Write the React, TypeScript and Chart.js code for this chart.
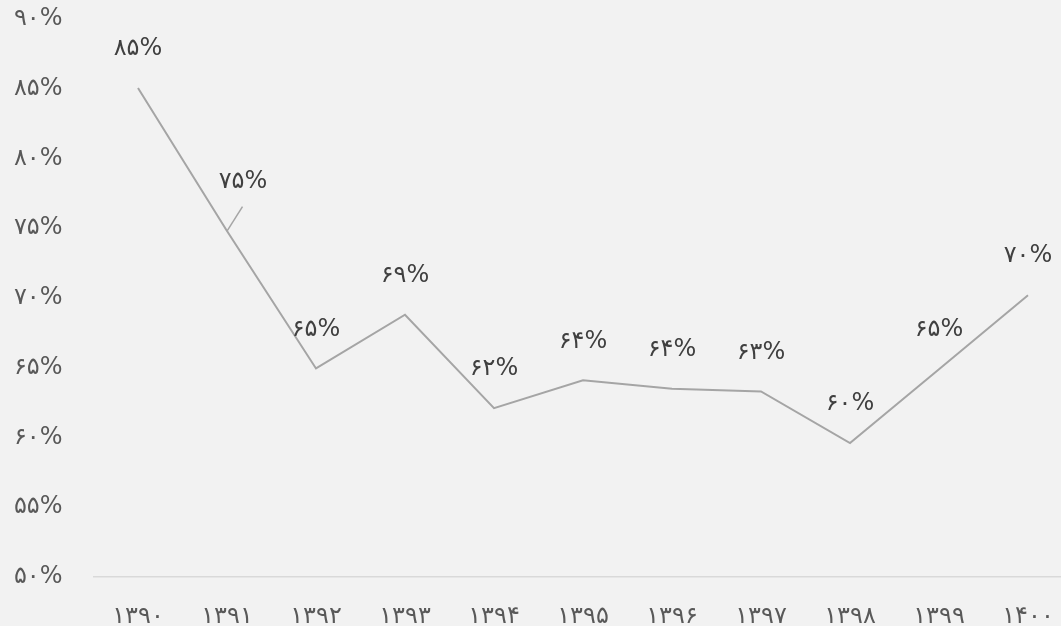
import React, { useEffect, useRef } from "react";
import { Chart, registerables } from "chart.js";

Chart.register(...registerables);

const years = [1390, 1391, 1392, 1393, 1394, 1395, 1396, 1397, 1398, 1399, 1400];
const shares = [85.05, 74.8, 64.95, 68.8, 62.1, 64.1, 63.5, 63.3, 59.6, 64.9, 70.2];
const yTicks = [50, 55, 60, 65, 70, 75, 80, 85, 90];

const FA = ["۰", "۱", "۲", "۳", "۴", "۵", "۶", "۷", "۸", "۹"];
const toFa = (v: number | string) => String(v).replace(/\d/g, (d) => FA[+d]);

const FONT = "'DejaVu Sans', sans-serif";

const labelPlugin = {
  id: "faLabels",
  afterDatasetsDraw(chart: any) {
    const ctx = chart.ctx;
    const meta = chart.getDatasetMeta(0);
    ctx.save();
    ctx.font = `24px ${FONT}`;
    ctx.fillStyle = "#404040";
    ctx.textAlign = "center";
    ctx.textBaseline = "middle";
    meta.data.forEach((pt: any, i: number) => {
      const v = shares[i];
      let dx = 0;
      let dy = -39;
      if (i === 1) {
        dx = 16;
        dy = -49;
        ctx.strokeStyle = "#a5a5a5";
        ctx.lineWidth = 1.5;
        ctx.beginPath();
        ctx.moveTo(pt.x, pt.y);
        ctx.lineTo(pt.x + 15.5, pt.y - 24.5);
        ctx.stroke();
      }
      ctx.fillText(toFa(Math.round(v)) + "%", pt.x + dx, pt.y + dy);
    });
    ctx.restore();
  },
};

export default function App() {
  const ref = useRef<HTMLCanvasElement | null>(null);
  useEffect(() => {
    if (!ref.current) return;
    const chart = new Chart(ref.current, {
      type: "line",
      data: {
        labels: years.map((y) => toFa(y)),
        datasets: [
          {
            data: shares,
            borderColor: "#a5a5a5",
            borderWidth: 2,
            pointRadius: 0,
            tension: 0,
          },
        ],
      },
      options: {
        animation: false,
        responsive: false,
        maintainAspectRatio: false,
        layout: { autoPadding: false, padding: { top: 19, right: 12.5, left: 0, bottom: 0 } },
        plugins: { legend: { display: false }, tooltip: { enabled: false } },
        scales: {
          x: {
            type: "category",
            offset: true,
            grid: { display: false, drawTicks: false },
            border: { display: true, color: "#d9d9d9", width: 1.5 },
            ticks: {
              color: "#595959",
              font: { family: FONT, size: 24 },
              padding: 25,
              maxRotation: 0,
              autoSkip: false,
            },
            afterFit: (s: any) => {
              s.height = 49;
              s.paddingLeft = 0;
              s.paddingRight = 0;
            },
          },
          y: {
            min: 50,
            max: 90,
            afterBuildTicks: (s: any) => {
              s.ticks = yTicks.map((v) => ({ value: v }));
            },
            grid: { display: false, drawTicks: false },
            border: { display: false },
            ticks: {
              color: "#595959",
              font: { family: FONT, size: 24 },
              padding: 31,
              callback: (v: any) => toFa(v) + "%",
            },
            afterFit: (s: any) => {
              s.width = 93.5;
              s.paddingTop = 0;
              s.paddingBottom = 0;
            },
          },
        },
      },
      plugins: [labelPlugin],
    });
    return () => chart.destroy();
  }, []);
  return (
    <div
      style={{
        position: "fixed",
        left: 0,
        top: 0,
        width: 1061,
        height: 626,
        overflow: "hidden",
        background: "#f2f2f2",
      }}
    >
      <canvas ref={ref} width={1085} height={626} style={{ display: "block" }} />
    </div>
  );
}
